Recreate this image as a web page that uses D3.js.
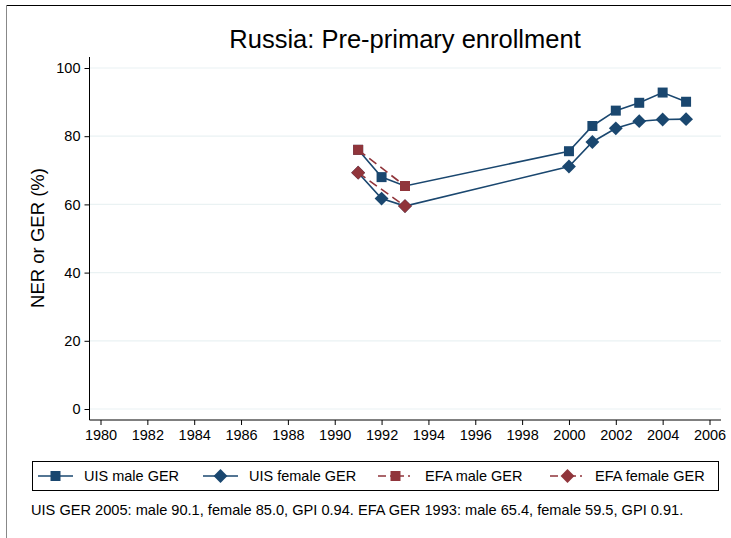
<!DOCTYPE html>
<html><head><meta charset="utf-8">
<script src="https://cdn.jsdelivr.net/npm/d3@7"></script>
<style>body{margin:0;background:#fff}svg{display:block;font-family:"Liberation Sans",Arial,sans-serif}</style>
</head><body><svg id="c" width="731" height="538"></svg>
<script>
const years = [1991, 1992, 1993, 2000, 2001, 2002, 2003, 2004, 2005];
const uisMale = [76.0, 68.0, 65.4, 75.6, 83.0, 87.5, 89.8, 92.8, 90.1];
const uisFemale = [69.3, 61.7, 59.5, 71.1, 78.3, 82.3, 84.4, 84.9, 85.0];
const efaYears = [1991, 1993];
const efaMale = [76.0, 65.4];
const efaFemale = [69.3, 59.5];
const xTicks = d3.range(1980, 2007, 2);
const yTicks = [0, 20, 40, 60, 80, 100];
const legendLabels = ["UIS male GER", "UIS female GER", "EFA male GER", "EFA female GER"];
const titleText = "Russia: Pre-primary enrollment";
const yLabel = "NER or GER (%)";
const note = "UIS GER 2005: male 90.1, female 85.0, GPI 0.94. EFA GER 1993: male 65.4, female 59.5, GPI 0.91.";

const navy = "#1a476f", maroon = "#90353b";
const svg = d3.select("#c");
svg.append("line").attr("x1",6).attr("x2",731).attr("y1",5.5).attr("y2",5.5).attr("stroke","#000").attr("stroke-width",1);
svg.append("line").attr("x1",6.5).attr("x2",6.5).attr("y1",5).attr("y2",538).attr("stroke","#888").attr("stroke-width",1);

const x = d3.scaleLinear().domain([1980, 2006]).range([100.5, 709.5]);
const y = d3.scaleLinear().domain([0, 100]).range([409, 68]);
const left = 89.5, bottom = 420, right = 721;

svg.append("g").selectAll("line").data(yTicks).join("line")
  .attr("x1", left).attr("x2", right).attr("y1", d=>y(d)).attr("y2", d=>y(d))
  .attr("stroke", "#eaf2f3").attr("stroke-width", 1.2);

const ya = svg.append("g").attr("transform",`translate(${left},0)`)
  .call(d3.axisLeft(y).tickValues(yTicks).tickSize(5).tickPadding(4));
ya.attr("font-size", null).attr("font-family", null);
ya.select(".domain").remove();
ya.append("line").attr("x1",0).attr("x2",0).attr("y1",57).attr("y2",bottom).attr("stroke","#000");
ya.selectAll("text").style("font-size","14.5px").attr("fill","#000");
ya.selectAll(".tick line").attr("stroke","#000");

const xa = svg.append("g").attr("transform",`translate(0,${bottom})`)
  .call(d3.axisBottom(x).tickValues(xTicks).tickFormat(d3.format("d")).tickSize(5).tickPadding(5));
xa.attr("font-size", null).attr("font-family", null);
xa.select(".domain").remove();
xa.append("line").attr("x1",left).attr("x2",right).attr("y1",0).attr("y2",0).attr("stroke","#000");
xa.selectAll("text").style("font-size","14.5px").attr("fill","#000");
xa.selectAll(".tick line").attr("stroke","#000");

svg.append("text").attr("x",405).attr("y",48).attr("text-anchor","middle").attr("font-size",25.5).attr("fill","#000").text(titleText);
svg.append("text").attr("transform","translate(44,238) rotate(-90)").attr("text-anchor","middle").attr("font-size",18.5).attr("fill","#000").text(yLabel);

const line = d3.line().x(d=>x(d[0])).y(d=>y(d[1]));
const sq = d3.symbol().type(d3.symbolSquare).size(100);
const diaPath = d3.symbol().type(d3.symbolSquare).size(96);

function series(xs, vs, color, dash, isDia){
  const pts = xs.map((d,i)=>[d, vs[i]]);
  svg.append("path").attr("d", line(pts)).attr("fill","none").attr("stroke",color).attr("stroke-width",1.6)
    .attr("stroke-dasharray", dash);
  svg.append("g").selectAll("path").data(pts).join("path")
    .attr("transform", d=>`translate(${x(d[0])},${y(d[1])})` + (isDia ? " rotate(45)" : ""))
    .attr("d", isDia ? diaPath : sq).attr("fill", color);
}
series(years, uisMale, navy, null, false);
series(years, uisFemale, navy, null, true);
series(efaYears, efaMale, maroon, "9,5", false);
series(efaYears, efaFemale, maroon, "9,5", true);

svg.append("rect").attr("x",32.5).attr("y",461.5).attr("width",686).attr("height",29).attr("fill","#fff").attr("stroke","#000");
const items = [
  {lx:38, tx:84, c:navy, d:false, dash:null},
  {lx:203, tx:249, c:navy, d:true, dash:null},
  {lx:378, tx:425, c:maroon, d:false, dash:"8,4,2,4"},
  {lx:550, tx:595, c:maroon, d:true, dash:"8,4,2,4"}
];
const ly = 476;
items.forEach((it,i)=>{
  svg.append("line").attr("x1",it.lx).attr("x2",it.lx+35).attr("y1",ly).attr("y2",ly)
    .attr("stroke",it.c).attr("stroke-width",1.6).attr("stroke-dasharray",it.dash);
  svg.append("path").attr("transform",`translate(${it.lx+17.5},${ly})` + (it.d ? " rotate(45)" : ""))
    .attr("d", it.d ? diaPath : sq).attr("fill",it.c);
  svg.append("text").attr("x",it.tx).attr("y",ly+5).attr("font-size",14.5).attr("fill","#000").text(legendLabels[i]);
});
svg.append("text").attr("x",31).attr("y",515).attr("font-size",14.6).attr("fill","#000").text(note);
</script></body></html>
